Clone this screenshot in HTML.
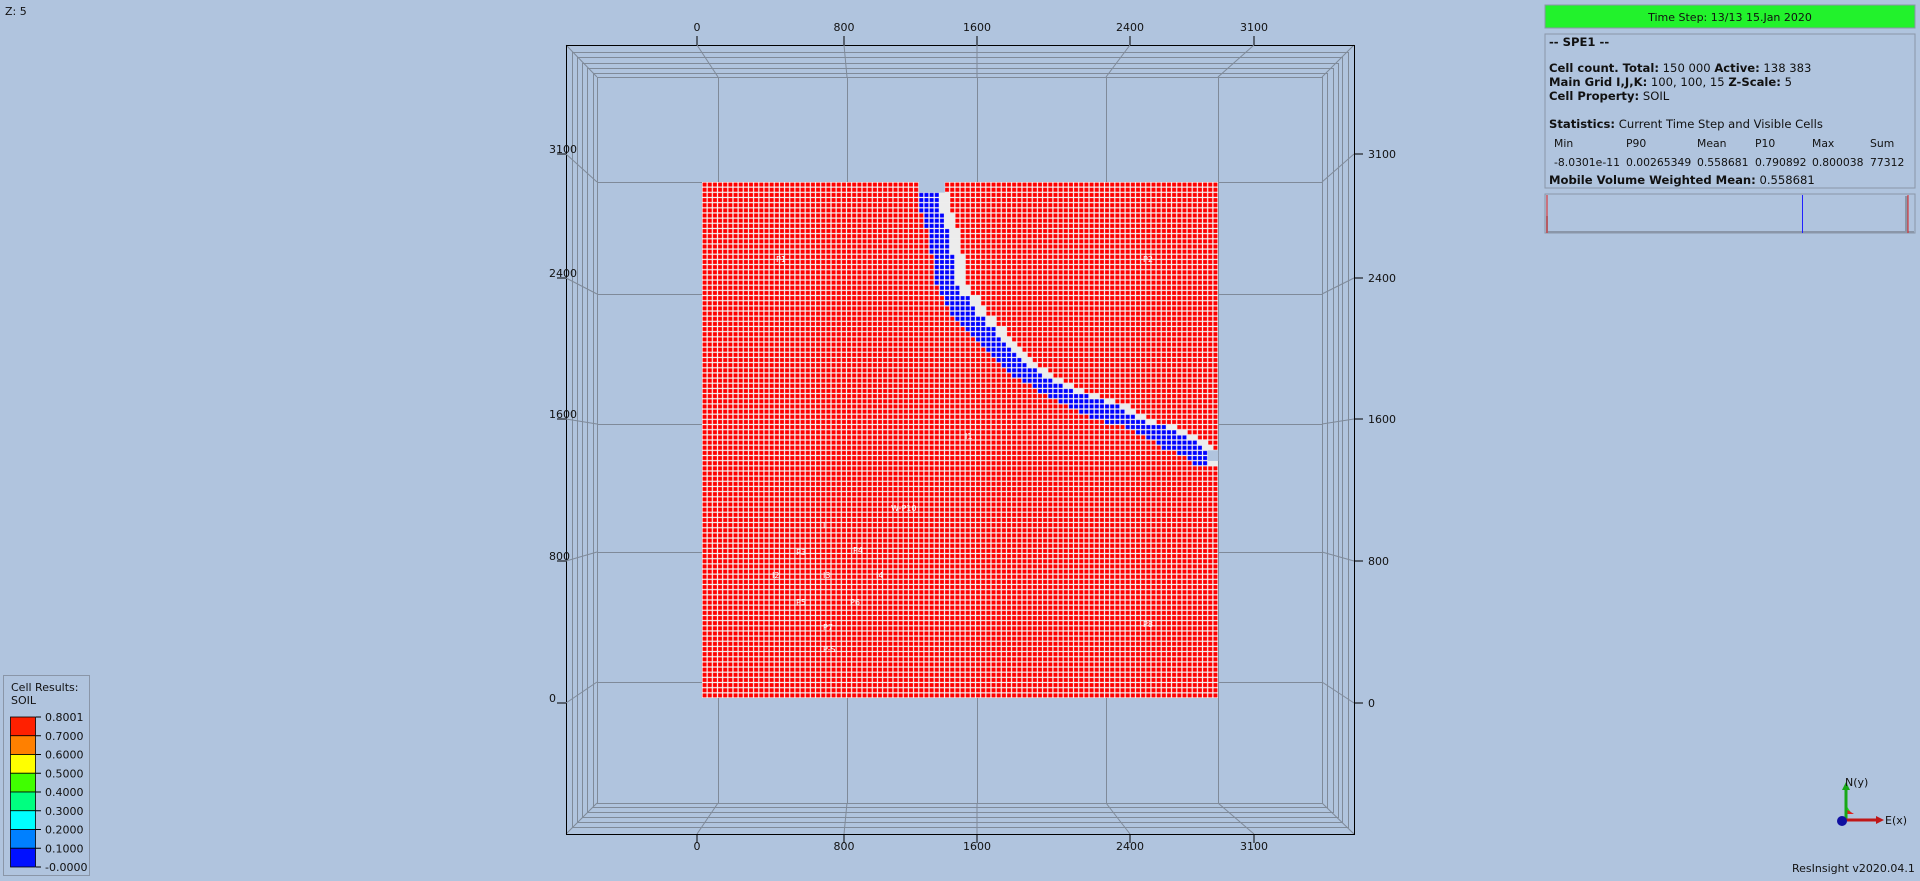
<!DOCTYPE html>
<html><head><meta charset="utf-8"><style>
html,body{margin:0;padding:0;background:#b0c4de;}
svg{display:block;font-family:"DejaVu Sans","Liberation Sans",sans-serif;}
</style></head><body>
<svg id="v" width="1920" height="881" viewBox="0 0 1920 881">
<rect x="0" y="0" width="1920" height="881" fill="#b0c4de"/>
<text x="5" y="15" font-size="11" fill="#111">Z: 5</text>
<g id="frame"></g>
<g id="grid"></g>
<g id="labels" font-size="11" fill="#111"></g>

<!-- info panel -->
<rect x="1545" y="5" width="370" height="23" fill="#22f22c" stroke="#8a96a8"/>
<text x="1730" y="21" font-size="11" text-anchor="middle" fill="#111">Time Step: 13/13 15.Jan 2020</text>
<g font-size="11.6" fill="#111">
<rect x="1545" y="34" width="370" height="154" fill="none" stroke="#8a96a8"/>
<text x="1549" y="46" font-weight="bold">-- SPE1 --</text>
<text x="1549" y="72"><tspan font-weight="bold">Cell count. Total:</tspan> 150 000 <tspan font-weight="bold">Active:</tspan> 138 383</text>
<text x="1549" y="86"><tspan font-weight="bold">Main Grid I,J,K:</tspan> 100, 100, 15 <tspan font-weight="bold">Z-Scale:</tspan> 5</text>
<text x="1549" y="100"><tspan font-weight="bold">Cell Property:</tspan> SOIL</text>
<text x="1549" y="128"><tspan font-weight="bold">Statistics:</tspan> Current Time Step and Visible Cells</text>
<g font-size="10.8">
<text x="1554" y="147">Min</text><text x="1626" y="147">P90</text><text x="1697" y="147">Mean</text><text x="1755" y="147">P10</text><text x="1812" y="147">Max</text><text x="1870" y="147">Sum</text>
<text x="1554" y="166">-8.0301e-11</text><text x="1626" y="166">0.00265349</text><text x="1697" y="166">0.558681</text><text x="1755" y="166">0.790892</text><text x="1812" y="166">0.800038</text><text x="1870" y="166">77312</text>
</g>
<text x="1549" y="184"><tspan font-weight="bold">Mobile Volume Weighted Mean:</tspan> 0.558681</text>
</g>
<g>
<rect x="1545" y="194" width="370" height="39" fill="none" stroke="#8a96a8"/>
<rect x="1546" y="216" width="2" height="17" fill="#8a96a8"/>
<rect x="1784" y="231" width="18" height="2" fill="#8a96a8"/>
<rect x="1546" y="231" width="368" height="2" fill="#8a96a8"/>
<rect x="1905" y="196" width="3" height="37" fill="#8a96a8"/>
<line x1="1547" y1="195" x2="1547" y2="233" stroke="#e02020"/>
<line x1="1802.5" y1="195" x2="1802.5" y2="233" stroke="#2020ff"/>
<line x1="1908" y1="195" x2="1908" y2="233" stroke="#e02020"/>
</g>

<!-- legend -->
<g font-size="11" fill="#111">
<rect x="3.5" y="675.5" width="86" height="200" fill="none" stroke="#8a96a8"/>
<text x="11" y="691">Cell Results:</text>
<text x="11" y="704">SOIL</text>
<g id="leg"></g>
</g>

<!-- axis triad -->
<g>
<polygon points="1846,814 1846,805 1852,814" fill="#22e022"/>
<polygon points="1846,814 1854,814 1846,809" fill="#e02020"/>
<line x1="1846" y1="820" x2="1846" y2="789" stroke="#17a817" stroke-width="3"/>
<polygon points="1842,790 1850,790 1846,782" fill="#17a817"/>
<line x1="1846" y1="820" x2="1877" y2="820" stroke="#c01717" stroke-width="3"/>
<polygon points="1876,816 1876,824 1884,820" fill="#c01717"/>
<circle cx="1842" cy="821" r="5" fill="#1010a0"/>
<text x="1845" y="786" font-size="11" fill="#111">N(y)</text>
<text x="1885" y="824" font-size="11" fill="#111">E(x)</text>
</g>
<text x="1792" y="872" font-size="11" fill="#111">ResInsight v2020.04.1</text>
</svg>
<script>
// ---- data ----
const xTicks=["0","800","1600","2400","3100"];
const yTicks=["3100","2400","1600","800","0"];
const legendValues=["0.8001","0.7000","0.6000","0.5000","0.4000","0.3000","0.2000","0.1000","-0.0000"];
const legendColors=["#ff2000","#ff8000","#ffff00","#40ff00","#00ff80","#00ffff","#0080ff","#0010ff"];
// blue channel rows: [row, firstCol, lastCol]
const channelRows=[[2,42,45],[3,42,45],[4,42,45],[5,42,45],[6,43,46],[7,43,46],[8,43,46],[9,44,47],[10,44,47],[11,44,47],[12,44,47],[13,44,47],[14,45,48],[15,45,48],[16,45,48],[17,45,48],[18,45,48],[19,45,48],[20,46,49],[21,46,49],[22,47,51],[23,47,51],[24,48,52],[25,48,52],[26,49,54],[27,50,54],[28,51,56],[29,52,56],[30,53,57],[31,54,58],[32,55,59],[33,56,60],[34,57,61],[35,58,62],[36,59,64],[37,60,65],[38,62,67],[39,64,69],[40,65,71],[41,67,74],[42,69,77],[43,71,80],[44,73,81],[45,75,83],[46,78,85],[47,82,89],[48,84,91],[49,86,93],[50,88,95],[51,89,96],[52,92,97],[53,94,97],[54,95,97]];
const inactiveCells=[[0,42],[0,43],[0,44],[0,45],[0,46],[1,42],[1,43],[1,44],[1,45],[1,46],[52,98],[52,99],[53,98],[53,99]];
const ns="http://www.w3.org/2000/svg";
function mk(parent,tag,attrs){const e=document.createElementNS(ns,tag);for(const k in attrs)e.setAttribute(k,attrs[k]);parent.appendChild(e);return e;}
// geometry
const inner={l:597,t:77,r:1322,b:803}, outer={l:566,t:45,r:1354,b:834};
const gx0=702,gy0=182,gsz=516,N=100,cs=gsz/N;
const xGrid=[718,847,977,1106,1218], xLab=[697,844,977,1130,1254];
const yGrid=[182,294,424,552,682], yLab=[154,278,419,561,703];
const frame=document.getElementById('frame');
const insets=[[597,77,1322,803],[593,73,1327,807],[587,68,1333,812],[582,63,1338,817],[577,57,1342,822],[572,52,1348,827]];
insets.forEach(r=>{const e=mk(frame,'rect',{x:r[0]+.5,y:r[1]+.5,width:r[2]-r[0],height:r[3]-r[1],fill:'none',stroke:'#7f8a99'});

});
[[inner.l,inner.t,outer.l,outer.t],[inner.r,inner.t,outer.r,outer.t],[inner.l,inner.b,outer.l,outer.b],[inner.r,inner.b,outer.r,outer.b]].forEach(p=>mk(frame,'line',{x1:p[0],y1:p[1],x2:p[2],y2:p[3],stroke:'#7f8a99'}));
const ob=mk(frame,'rect',{x:outer.l+.5,y:outer.t+.5,width:outer.r-outer.l,height:outer.b-outer.t,fill:'none',stroke:'#000'});


xGrid.forEach((x,i)=>{mk(frame,'line',{x1:x+.5,y1:inner.t,x2:x+.5,y2:inner.b,stroke:'#7f8a99'});
 mk(frame,'line',{x1:x,y1:inner.t,x2:xLab[i],y2:outer.t,stroke:'#7f8a99'});
 mk(frame,'line',{x1:x,y1:inner.b,x2:xLab[i],y2:outer.b,stroke:'#7f8a99'});
 mk(frame,'line',{x1:xLab[i],y1:outer.t,x2:xLab[i],y2:outer.t-9,stroke:'#000'});
 mk(frame,'line',{x1:xLab[i],y1:outer.b,x2:xLab[i],y2:outer.b+9,stroke:'#000'});});
yGrid.forEach((y,i)=>{mk(frame,'line',{x1:inner.l,y1:y+.5,x2:inner.r,y2:y+.5,stroke:'#7f8a99'});
 mk(frame,'line',{x1:inner.l,y1:y,x2:outer.l,y2:yLab[i],stroke:'#7f8a99'});
 mk(frame,'line',{x1:inner.r,y1:y,x2:outer.r,y2:yLab[i],stroke:'#7f8a99'});
 mk(frame,'line',{x1:outer.l,y1:yLab[i],x2:outer.l-9,y2:yLab[i],stroke:'#000'});
 mk(frame,'line',{x1:outer.r,y1:yLab[i],x2:outer.r+9,y2:yLab[i],stroke:'#000'});});
const lab=document.getElementById('labels');
xTicks.forEach((t,i)=>{let a=mk(lab,'text',{x:xLab[i],y:31,'text-anchor':'middle'});a.textContent=t;


let b=mk(lab,'text',{x:xLab[i],y:850,'text-anchor':'middle'});b.textContent=t;

});
yTicks.forEach((t,i)=>{let a=mk(lab,'text',{x:549,y:yLab[i]-1}); a.textContent=t;


let b=mk(lab,'text',{x:1368,y:yLab[i]+4});b.textContent=t;

});
// cell grid
const g=document.getElementById('grid');
const defs=mk(g,'defs',{});
const pat=mk(defs,'pattern',{id:'cells',x:gx0,y:gy0,width:cs,height:cs,patternUnits:'userSpaceOnUse'});
mk(pat,'rect',{x:0,y:0,width:cs,height:cs,fill:'#f4f4f4'});
mk(pat,'rect',{x:0.6,y:0.6,width:cs-1.2,height:cs-1.2,fill:'#ff0000'});
const bp=mk(defs,'pattern',{id:'bcells',x:gx0,y:gy0,width:cs,height:cs,patternUnits:'userSpaceOnUse'});
mk(bp,'rect',{x:0,y:0,width:cs,height:cs,fill:'#f4f4f4'});
mk(bp,'rect',{x:0.6,y:0.6,width:cs-1.2,height:cs-1.2,fill:'#0000ff'});
const base=mk(g,'rect',{x:gx0,y:gy0,width:gsz,height:gsz,fill:'url(#cells)'});


channelRows.forEach(r=>{const [row,c0,c1]=r;
 const w=mk(g,'rect',{x:gx0+(c1+1)*cs,y:gy0+row*cs,width:cs*2,height:cs,fill:'#ececec'});
 
 
 const e=mk(g,'rect',{x:gx0+c0*cs,y:gy0+row*cs,width:(c1-c0+1)*cs,height:cs,fill:'url(#bcells)'});
 
 });
inactiveCells.forEach(c=>{const e=mk(g,'rect',{x:gx0+c[1]*cs,y:gy0+c[0]*cs,width:cs+0.3,height:cs+0.3,fill:'#b0c4de'});
 
 });
// well markers
const wells=[[776,262,"P1"],[1143,262,"P2"],[965,439,"I1"],[891,511,"W-P10"],[823,528,"I"],[796,555,"P3"],[853,553,"P4"],[772,578,"I2"],[823,578,"I3"],[876,578,"I4"],[796,605,"P5"],[850,605,"P6"],[823,630,"P7"],[1143,627,"P8"],[823,652,"P-S"]];
wells.forEach(w=>{const t=mk(g,'text',{x:w[0],y:w[1],'font-size':8,fill:'#fff'});t.textContent=w[2];

});
// legend
const leg=document.getElementById('leg');
const ly0=717,lh=150/legendColors.length;
legendColors.forEach((c,i)=>{const e=mk(leg,'rect',{x:10.5,y:ly0+i*lh,width:25,height:lh,fill:c,stroke:'#000','stroke-width':0.8});

});
legendValues.forEach((v,i)=>{mk(leg,'line',{x1:36,y1:ly0+i*lh,x2:41,y2:ly0+i*lh,stroke:'#000'});
const t=mk(leg,'text',{x:45,y:ly0+i*lh+4,'font-size':11,fill:'#111'});t.textContent=v;

});
</script>
</body></html>
